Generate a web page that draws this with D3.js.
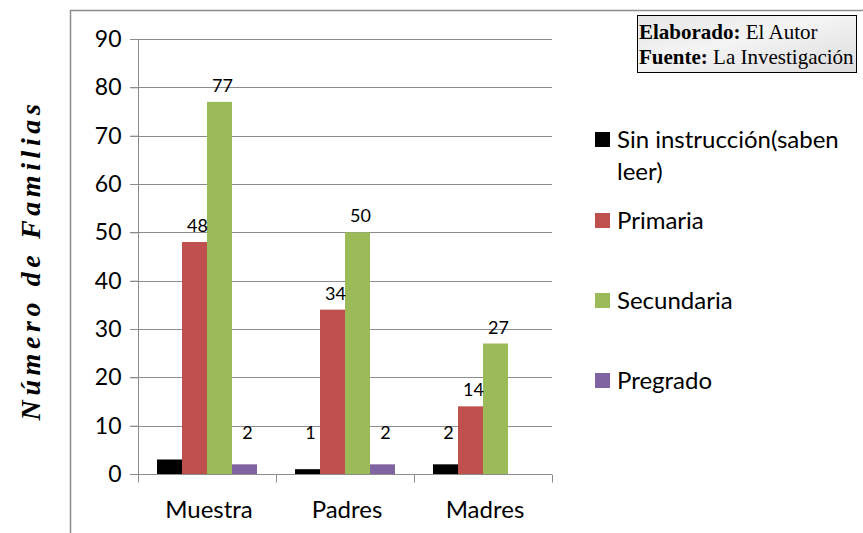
<html>
  <head>
    <style>
      body { margin: 0; background: #fff; }
      svg { display: block; }
    </style>
  </head>
  <body>
    <svg></svg>
    <script src="https://cdn.jsdelivr.net/npm/d3@7"></script>
    <script>
      // data
      let categories = ["Muestra", "Padres", "Madres"];
      let seriesNames = ["Sin instrucción(saben leer)", "Primaria", "Secundaria", "Pregrado"];
      let sinInstruccion = [3, 1, 2];
      let primaria = [48, 34, 14];
      let secundaria = [77, 50, 27];
      let pregrado = [2, 2, 0];
      // labels as printed (the 3 and the 0 carry no label)
      let sinInstruccionLabels = [null, 1, 2];
      let primariaLabels = [48, 34, 14];
      let secundariaLabels = [77, 50, 27];
      let pregradoLabels = [2, 2, null];
      let yTicks = [0, 10, 20, 30, 40, 50, 60, 70, 80, 90];

      let colors = ["#000000", "#C0504D", "#9BBB59", "#8064A2"];
      let values = [sinInstruccion, primaria, secundaria, pregrado];
      let labels = [sinInstruccionLabels, primariaLabels, secundariaLabels, pregradoLabels];

      let width = 863,
        height = 533;
      let svg = d3.select("svg").attr("width", width).attr("height", height);
      let font = "Lato, 'Open Sans', sans-serif";

      // outer frame (left and top edges visible)
      svg.append("path")
        .attr("d", "M70.5,533 V10.5 H863")
        .attr("fill", "none")
        .attr("stroke", "#8c8c8c")
        .attr("stroke-width", 1.5);

      let x = d3.scaleBand().domain(categories).range([138, 552]);
      let x1 = d3.scaleBand().domain(d3.range(4)).range([0, x.bandwidth()]).paddingOuter(0.76);
      let y = d3.scaleLinear().domain([0, 90]).range([474, 39]);

      // gridlines
      svg.append("g")
        .selectAll("line")
        .data(yTicks)
        .enter()
        .append("line")
        .attr("x1", 130)
        .attr("x2", 552)
        .attr("y1", (d) => Math.round(y(d)) + 0.5)
        .attr("y2", (d) => Math.round(y(d)) + 0.5)
        .attr("stroke", "#8c8c8c")
        .attr("stroke-width", 1);

      // y axis
      let yAxis = svg.append("g")
        .attr("transform", "translate(138.5,0)")
        .call(d3.axisLeft(y).tickValues(yTicks).tickSize(8).tickPadding(9));
      yAxis.select(".domain").attr("stroke", "#8c8c8c").attr("d", "M0," + y(90) + "V" + y(0));
      yAxis.selectAll(".tick line").attr("stroke", "#8c8c8c");
      yAxis.selectAll("text")
        .attr("font-family", font)
        .attr("font-size", 23)
        .attr("fill", "#000");

      // bars
      let groups = svg.append("g")
        .selectAll("g")
        .data(categories)
        .enter()
        .append("g")
        .attr("transform", (d) => "translate(" + x(d) + ",0)");

      groups.selectAll("rect")
        .data((d, i) => values.map((s, k) => ({ k: k, v: s[i] })))
        .enter()
        .append("rect")
        .attr("x", (d) => x1(d.k))
        .attr("width", x1.bandwidth())
        .attr("y", (d) => y(d.v))
        .attr("height", (d) => y(0) - y(d.v))
        .attr("fill", (d) => colors[d.k]);

      groups.selectAll("text")
        .data((d, i) => labels.map((s, k) => ({ k: k, v: values[k][i], l: s[i] })).filter((d) => d.l !== null))
        .enter()
        .append("text")
        .attr("x", (d) => x1(d.k) + x1.bandwidth() / 2 + 3)
        .attr("y", (d) => Math.min(y(d.v) - 10, y(0) - 35))
        .attr("text-anchor", "middle")
        .attr("font-family", font)
        .attr("font-size", 18)
        .text((d) => d.l);

      // x axis
      let xAxis = svg.append("g")
        .attr("transform", "translate(0," + (y(0) + 0.5) + ")");
      xAxis.append("line")
        .attr("x1", 138).attr("x2", 552)
        .attr("stroke", "#8c8c8c");
      xAxis.selectAll(".tk")
        .data(categories.concat([null]))
        .enter()
        .append("line")
        .attr("x1", (d, i) => Math.round(138 + i * x.step()) + 0.5)
        .attr("x2", (d, i) => Math.round(138 + i * x.step()) + 0.5)
        .attr("y1", 0).attr("y2", 8)
        .attr("stroke", "#8c8c8c");
      xAxis.selectAll("text")
        .data(categories)
        .enter()
        .append("text")
        .attr("x", (d) => x(d) + x.bandwidth() / 2 + 2)
        .attr("y", 43)
        .attr("text-anchor", "middle")
        .attr("font-family", font)
        .attr("font-size", 24)
        .text((d) => d);

      // y title
      svg.append("text")
        .attr("transform", "translate(40,260) rotate(-90)")
        .attr("text-anchor", "middle")
        .attr("font-family", "'Liberation Serif', 'Times New Roman', serif")
        .attr("font-weight", "bold")
        .attr("font-style", "italic")
        .attr("font-size", 28)
        .attr("letter-spacing", 4.6)
        .text("Número de Familias");

      // legend
      let legendY = [139, 220, 300, 380];
      let legend = svg.append("g")
        .selectAll("g")
        .data(seriesNames)
        .enter()
        .append("g")
        .attr("transform", (d, i) => "translate(595," + legendY[i] + ")");
      legend.append("rect")
        .attr("x", 0).attr("y", -7)
        .attr("width", 15).attr("height", 15)
        .attr("fill", (d, i) => colors[i]);
      legend.append("text")
        .attr("x", 22)
        .attr("y", 9)
        .attr("font-family", font)
        .attr("font-size", 24)
        .each(function (d) {
          let t = d3.select(this);
          let parts = d === seriesNames[0] ? ["Sin instrucción(saben", "leer)"] : [d];
          parts.forEach((p, j) => {
            t.append("tspan").attr("x", 22).attr("dy", j === 0 ? 0 : 32).text(p);
          });
        });

      // source box
      let defs = svg.append("defs");
      let grad = defs.append("linearGradient").attr("id", "marble").attr("x1", "0%").attr("y1", "0%").attr("x2", "100%").attr("y2", "100%");
      grad.append("stop").attr("offset", "0%").attr("stop-color", "#e6e6e6");
      grad.append("stop").attr("offset", "45%").attr("stop-color", "#f4f4f4");
      grad.append("stop").attr("offset", "100%").attr("stop-color", "#dcdcdc");
      svg.append("rect")
        .attr("x", 637.5).attr("y", 15.5)
        .attr("width", 219).attr("height", 57)
        .attr("fill", "url(#marble)")
        .attr("stroke", "#000")
        .attr("stroke-width", 1);
      let src = svg.append("text")
        .attr("font-family", "'Liberation Serif', 'Times New Roman', serif")
        .attr("font-size", 21);
      let l1 = src.append("tspan").attr("x", 639).attr("y", 39);
      l1.append("tspan").attr("font-weight", "bold").text("Elaborado:");
      l1.append("tspan").text(" El Autor");
      let l2 = src.append("tspan").attr("x", 639).attr("y", 64);
      l2.append("tspan").attr("font-weight", "bold").text("Fuente:");
      l2.append("tspan").text(" La Investigación");
    </script>
  </body>
</html>
